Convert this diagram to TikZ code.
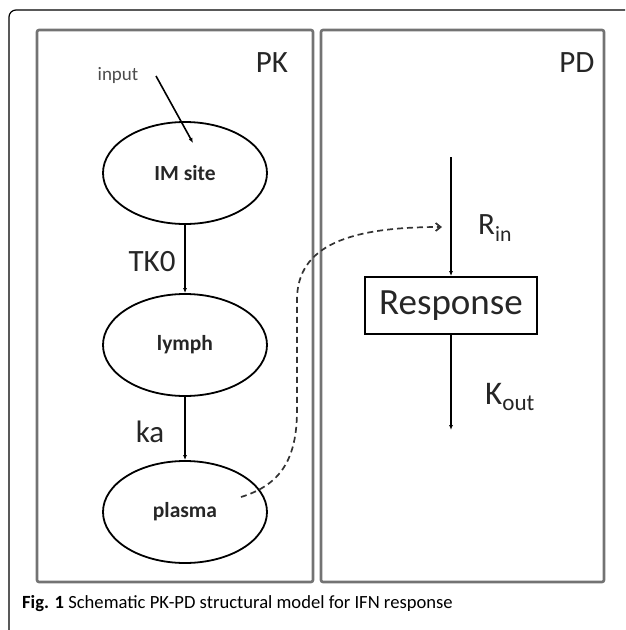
\documentclass[tikz,border=0pt]{standalone}
\usepackage{fontspec}
\setmainfont{Carlito}
\usetikzlibrary{shapes.geometric,arrows.meta,calc}
\begin{document}
\begin{tikzpicture}[x=1pt,y=-1pt,
  panel/.style={draw=black!55,line width=2.6pt,rounded corners=2pt},
  comp/.style={ellipse,draw,line width=1.8pt,minimum width=164pt,minimum height=102pt,inner sep=0pt,font=\fontsize{21.5}{25}\selectfont\bfseries,text=black!85},
  flow/.style={line width=1.6pt,-{Latex[length=5pt,width=4pt]}},
  biglabel/.style={font=\fontsize{31}{36}\selectfont,text=black!85,inner sep=0pt},
  resp/.style={draw,line width=1.8pt,minimum width=172pt,minimum height=57pt,inner sep=0pt,font=\fontsize{37}{42}\selectfont,text=black!85}
]
\useasboundingbox (0,0) rectangle (625,630);
% outer frame
\draw[line width=1.2pt] (9,630) -- (9,17) arc[start angle=180,end angle=270,radius=7] -- (625,10);
% panels
\draw[panel] (37,30) rectangle (313,582);
\draw[panel] (321,30) rectangle (604,582);
\node[biglabel] (pk) at (272,63) {PK};
\node[biglabel] (pd) at (577,63) {PD};
% PK compartments
\node[comp] (im) at (185,173) {IM site};
\node[comp] (lymph) at (185,345) {lymph};
\node[comp] (plasma) at (185,512) {plasma};
\node[font=\fontsize{19}{22}\selectfont,text=black!70,inner sep=0pt] (input) at (118,75) {input};
\coordinate (inS) at (156,76);
\coordinate (inE) at (193,143);
\draw[flow] (inS) -- (inE);
\draw[flow] (im.south) -- (lymph.north);
\draw[flow] (lymph.south) -- (plasma.north);
\node[biglabel] (tk0) at (152,262) {TK0};
\node[biglabel] (ka) at (150,432) {ka};
% PD
\node[resp] (response) at (451,305.5) {Response};
\coordinate (pdtop) at (451,157);
\coordinate (pdbot) at (451,430);
\draw[flow] (pdtop) -- (response.north);
\draw[flow] (response.south) -- (pdbot);
\node[biglabel,anchor=west] (rin) at (478,228) {R\textsubscript{in}};
\node[biglabel,anchor=west,font=\fontsize{33}{38}\selectfont] (kout) at (485,397) {K\textsubscript{out}};
% dashed coupling
\coordinate (dashend) at (442,227);
\draw[line width=1.7pt,dashed,dash pattern=on 6pt off 4pt,black!80,-{Straight Barb[length=5pt,width=8pt]}]
  ($(plasma.center)+(56,-15)$) .. controls (280,485) and (297,460) .. (297,410)
  -- (297,300) .. controls (297,245) and (350,227) .. (dashend);
% caption
\node[anchor=west,inner sep=0pt,font=\fontsize{18.6}{22}\selectfont] (cap) at (22,604) {\textbf{Fig. 1} Schematic PK-PD structural model for IFN response};
\end{tikzpicture}
\end{document}
